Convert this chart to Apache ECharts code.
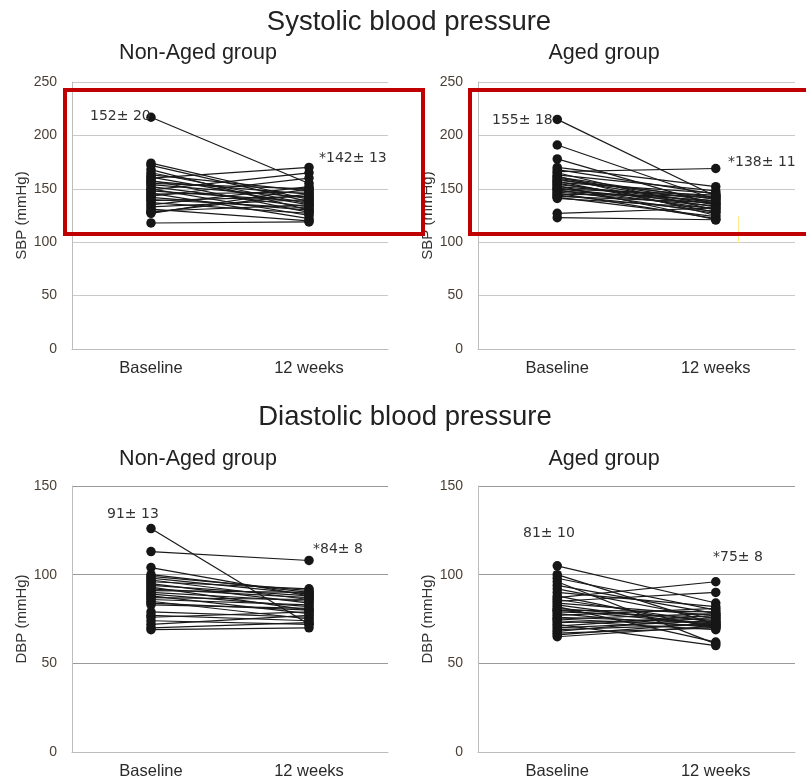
<!DOCTYPE html>
<html>
<head>
<meta charset="utf-8">
<script src="https://cdn.jsdelivr.net/npm/echarts@6/dist/echarts.min.js"></script>
<style>html,body{margin:0;padding:0;background:#fff}#c{width:806px;height:780px}</style>
</head>
<body>
<div id="c"></div>
<script>
// ---- data ----
const categories = ['Baseline', '12 weeks'];
const sbpTicks = [0, 50, 100, 150, 200, 250];
const dbpTicks = [0, 50, 100, 150];

const sbpNonAgedBaseline = [217, 174, 172, 168, 165, 163, 161, 160, 158, 157, 155, 154, 152, 150, 149, 148, 146, 145, 143, 142, 140, 139, 137, 135, 133, 131, 129, 128, 127, 118];
const sbpNonAged12w      = [155, 140, 138, 130, 136, 148, 135, 170, 128, 145, 150, 142, 133, 125, 165, 138, 122, 147, 160, 130, 132, 143, 127, 152, 140, 120, 135, 145, 150, 119];

const sbpAgedBaseline = [215, 191, 178, 170, 168, 166, 165, 163, 162, 161, 160, 159, 158, 157, 156, 155, 154, 153, 152, 151, 150, 150, 149, 148, 147, 146, 145, 144, 143, 142, 141, 127, 123];
const sbpAged12w      = [143, 140, 135, 152, 145, 169, 130, 148, 125, 140, 138, 135, 142, 128, 146, 133, 137, 121, 141, 131, 136, 144, 127, 139, 134, 122, 143, 129, 137, 124, 132, 132, 121];

const dbpNonAgedBaseline = [126, 113, 104, 100, 99, 98, 97, 96, 95, 94, 93, 92, 91, 90, 89, 88, 87, 86, 85, 84, 83, 79, 77, 76, 74, 72, 70, 69];
const dbpNonAged12w      = [72, 108, 88, 90, 91, 89, 86, 92, 84, 88, 80, 87, 90, 85, 82, 78, 86, 83, 75, 80, 81, 76, 74, 79, 72, 77, 73, 70];

const dbpAgedBaseline = [105, 100, 98, 96, 94, 92, 90, 88, 87, 86, 85, 84, 83, 82, 81, 80, 80, 79, 78, 77, 76, 75, 75, 74, 73, 72, 71, 70, 69, 68, 67, 66, 65];
const dbpAged12w      = [84, 72, 80, 61, 78, 75, 82, 70, 96, 73, 90, 77, 71, 62, 74, 79, 72, 76, 70, 81, 73, 78, 71, 69, 75, 60, 77, 74, 72, 76, 70, 73, 71];

const mainTitles = ['Systolic blood pressure', 'Diastolic blood pressure'];
const groupTitles = ['Non-Aged group', 'Aged group'];
const yNames = ['SBP (mmHg)', 'DBP (mmHg)'];
const summaries = [
  ['152\u00b1 20', '*142\u00b1 13'],
  ['155\u00b1 18', '*138\u00b1 11'],
  ['91\u00b1 13', '*84\u00b1 8'],
  ['81\u00b1 10', '*75\u00b1 8']
];

// ---- chart ----
const FONT = '"Liberation Sans", Arial, sans-serif';
const NOTE_FONT = '"DejaVu Sans", Verdana, sans-serif';
const panels = [
  {base: sbpNonAgedBaseline, wk: sbpNonAged12w, max: 250, left: 72, top: 82, width: 316, height: 267, yName: yNames[0], grid: '#c9c9c9'},
  {base: sbpAgedBaseline, wk: sbpAged12w, max: 250, left: 478, top: 82, width: 317, height: 267, yName: yNames[0], grid: '#c9c9c9'},
  {base: dbpNonAgedBaseline, wk: dbpNonAged12w, max: 150, left: 72, top: 486, width: 316, height: 268, yName: yNames[1], grid: '#9a9a9a'},
  {base: dbpAgedBaseline, wk: dbpAged12w, max: 150, left: 478, top: 486, width: 317, height: 268, yName: yNames[1], grid: '#9a9a9a'}
];

const grid = [], xAxis = [], yAxis = [], series = [];
panels.forEach((p, k) => {
  grid.push({left: p.left, top: p.top, width: p.width, height: p.height, containLabel: false});
  xAxis.push({
    type: 'category', gridIndex: k, data: categories, boundaryGap: true,
    axisLine: {show: true, lineStyle: {color: '#bdbdbd', width: 1}},
    axisTick: {show: false},
    axisLabel: {color: '#2a2a2a', fontSize: 16.5, fontFamily: FONT, margin: 11}
  });
  yAxis.push({
    type: 'value', gridIndex: k, min: 0, max: p.max, interval: 50,
    name: p.yName, nameLocation: 'middle', nameGap: 43, nameRotate: 90,
    nameTextStyle: {color: '#333', fontSize: 15, fontFamily: FONT},
    axisLine: {show: true, lineStyle: {color: '#bdbdbd', width: 1}},
    axisTick: {show: false},
    axisLabel: {color: '#4a3f35', fontSize: 14, fontFamily: FONT, margin: 15},
    splitLine: {show: true, lineStyle: {color: p.grid, width: 1}}
  });
  p.base.forEach((b, i) => {
    series.push({
      type: 'line', xAxisIndex: k, yAxisIndex: k,
      data: [b, p.wk[i]],
      symbol: 'circle', symbolSize: 9.5, showSymbol: true,
      lineStyle: {color: '#1a1a1a', width: 1.2},
      itemStyle: {color: '#161616'},
      silent: true, animation: false, z: 3
    });
  });
});

const txt = (x, y, s, size, align, color, family) => ({
  type: 'text', x: x, y: y, z: 50,
  style: {text: s, x: 0, y: 0, fill: color || '#333', font: size + 'px ' + (family || FONT), textAlign: align || 'left', textVerticalAlign: 'middle'}
});

const graphic = [
  txt(409, 22, mainTitles[0], 27.5, 'center', '#222'),
  txt(198, 53, groupTitles[0], 21.5, 'center', '#222'),
  txt(604, 53, groupTitles[1], 21.5, 'center', '#222'),
  txt(405, 417, mainTitles[1], 27.5, 'center', '#222'),
  txt(198, 459, groupTitles[0], 21.5, 'center', '#222'),
  txt(604, 459, groupTitles[1], 21.5, 'center', '#222'),
  txt(90, 116, summaries[0][0], 14, 'left', '#333', NOTE_FONT),
  txt(319, 158, summaries[0][1], 14, 'left', '#333', NOTE_FONT),
  txt(492, 120, summaries[1][0], 14, 'left', '#333', NOTE_FONT),
  txt(728, 162, summaries[1][1], 14, 'left', '#333', NOTE_FONT),
  txt(107, 514, summaries[2][0], 14, 'left', '#333', NOTE_FONT),
  txt(313, 549, summaries[2][1], 14, 'left', '#333', NOTE_FONT),
  txt(523, 533, summaries[3][0], 14, 'left', '#333', NOTE_FONT),
  txt(713, 557, summaries[3][1], 14, 'left', '#333', NOTE_FONT),
  {type: 'rect', z: 60, shape: {x: 65, y: 90, width: 358, height: 144}, style: {fill: 'none', stroke: '#c00000', lineWidth: 4}},
  {type: 'rect', z: 60, shape: {x: 470, y: 90, width: 345, height: 144}, style: {fill: 'none', stroke: '#c00000', lineWidth: 4}},
  {type: 'line', z: 59, shape: {x1: 738.5, y1: 216, x2: 738.5, y2: 243}, style: {stroke: '#ffe88a', lineWidth: 1}}
];

const chart = echarts.init(document.getElementById('c'), null, {renderer: 'canvas'});
chart.setOption({
  animation: false,
  backgroundColor: '#fff',
  grid, xAxis, yAxis, series, graphic
});
</script>
</body>
</html>
